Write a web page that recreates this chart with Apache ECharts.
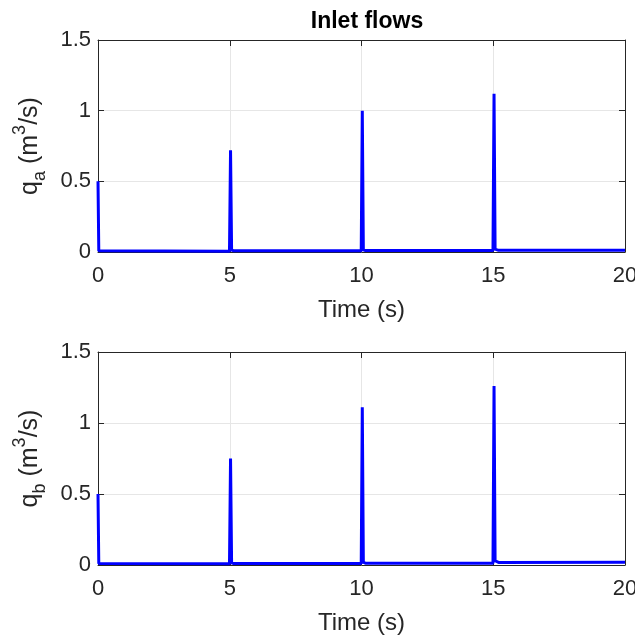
<!DOCTYPE html>
<html>
<head>
<meta charset="utf-8">
<script src="https://cdn.jsdelivr.net/npm/echarts@6/dist/echarts.min.js"></script>
<style>
  html, body { margin: 0; padding: 0; background: #ffffff; }
  #chart { width: 635px; height: 636px; }
</style>
</head>
<body>
<div id="chart"></div>
<script>
// time samples (s) around each inlet pulse
const timeS = [0, 0.03, 0.1, 4.99, 5.03, 5.07, 5.15, 9.99, 10.03, 10.07, 10.15, 14.99, 15.03, 15.07, 15.2, 20]
// inlet flow a (m^3/s)
const flowA = [0.5, 0.008, 0.006, 0.006, 0.72, 0.015, 0.008, 0.008, 1.0, 0.015, 0.01, 0.01, 1.12, 0.02, 0.012, 0.012]
// inlet flow b (m^3/s)
const flowB = [0.5, 0.01, 0.008, 0.008, 0.75, 0.015, 0.01, 0.01, 1.11, 0.02, 0.012, 0.012, 1.26, 0.03, 0.018, 0.02]
const xTicks = [0, 5, 10, 15, 20]
const yTicks = [0, 0.5, 1, 1.5]

const font = 'Liberation Sans, Arial, Helvetica, sans-serif'
const axisColor = '#262626'
const gridColor = '#e6e6e6'

function pairs(xs, ys) {
  return xs.map((x, i) => [x, ys[i]])
}

function yName(sub) {
  return '{n|q}{s|' + sub + '}{n| (m}{p|3}{n|/s)}'
}

const yRich = {
  n: { fontSize: 25, color: axisColor, fontFamily: font, lineHeight: 38 },
  s: { fontSize: 18, color: axisColor, fontFamily: font, verticalAlign: 'bottom', lineHeight: 18 },
  p: { fontSize: 18, color: axisColor, fontFamily: font, verticalAlign: 'top', lineHeight: 18 }
}

function mainX(gridIndex) {
  return {
    type: 'value',
    gridIndex: gridIndex,
    min: xTicks[0],
    max: xTicks[xTicks.length - 1],
    interval: xTicks[1] - xTicks[0],
    name: 'Time (s)',
    nameLocation: 'middle',
    nameGap: 46,
    nameTextStyle: { fontSize: 24, color: axisColor, fontFamily: font },
    axisLine: { onZero: false, lineStyle: { color: axisColor, width: 1 } },
    axisTick: { inside: true, length: 6, lineStyle: { color: axisColor } },
    axisLabel: { fontSize: 22, color: axisColor, fontFamily: font, margin: 13 },
    splitLine: { show: true, lineStyle: { color: gridColor, width: 1 } }
  }
}

function boxX(gridIndex) {
  return {
    type: 'value',
    gridIndex: gridIndex,
    position: 'top',
    min: xTicks[0],
    max: xTicks[xTicks.length - 1],
    interval: xTicks[1] - xTicks[0],
    axisLine: { onZero: false, lineStyle: { color: axisColor, width: 1 } },
    axisTick: { inside: true, length: 6, lineStyle: { color: axisColor } },
    axisLabel: { show: false },
    splitLine: { show: false }
  }
}

function mainY(gridIndex, sub) {
  return {
    type: 'value',
    gridIndex: gridIndex,
    min: yTicks[0],
    max: yTicks[yTicks.length - 1],
    interval: yTicks[1] - yTicks[0],
    name: yName(sub),
    nameLocation: 'middle',
    nameGap: 47,
    nameTextStyle: { rich: yRich },
    axisLine: { onZero: false, lineStyle: { color: axisColor, width: 1 } },
    axisTick: { inside: true, length: 6, lineStyle: { color: axisColor } },
    axisLabel: {
      fontSize: 22, color: axisColor, fontFamily: font, margin: 7,
      formatter: v => String(v)
    },
    splitLine: { show: true, lineStyle: { color: gridColor, width: 1 } }
  }
}

function boxY(gridIndex) {
  return {
    type: 'value',
    gridIndex: gridIndex,
    position: 'right',
    min: yTicks[0],
    max: yTicks[yTicks.length - 1],
    interval: yTicks[1] - yTicks[0],
    axisLine: { onZero: false, lineStyle: { color: axisColor, width: 1 } },
    axisTick: { inside: true, length: 6, lineStyle: { color: axisColor } },
    axisLabel: { show: false },
    splitLine: { show: false }
  }
}

function flowSeries(idx, ys) {
  return {
    type: 'line',
    xAxisIndex: idx * 2,
    yAxisIndex: idx * 2,
    data: pairs(timeS, ys),
    showSymbol: false,
    symbol: 'none',
    lineStyle: { color: '#0000ff', width: 3 },
    animation: false
  }
}

const chart = echarts.init(document.getElementById('chart'))
chart.setOption({
  backgroundColor: '#ffffff',
  animation: false,
  title: {
    text: 'Inlet flows',
    left: 362,
    textAlign: 'center',
    top: 5,
    textStyle: { fontSize: 23, fontWeight: 'bold', color: '#000000', fontFamily: font }
  },
  grid: [
    { left: 98, width: 527, top: 40, height: 212, containLabel: false, outerBoundsMode: 'none' },
    { left: 98, width: 527, top: 352, height: 213, containLabel: false, outerBoundsMode: 'none' }
  ],
  xAxis: [mainX(0), boxX(0), mainX(1), boxX(1)],
  yAxis: [mainY(0, 'a'), boxY(0), mainY(1, 'b'), boxY(1)],
  series: [flowSeries(0, flowA), flowSeries(1, flowB)]
})
</script>
</body>
</html>
